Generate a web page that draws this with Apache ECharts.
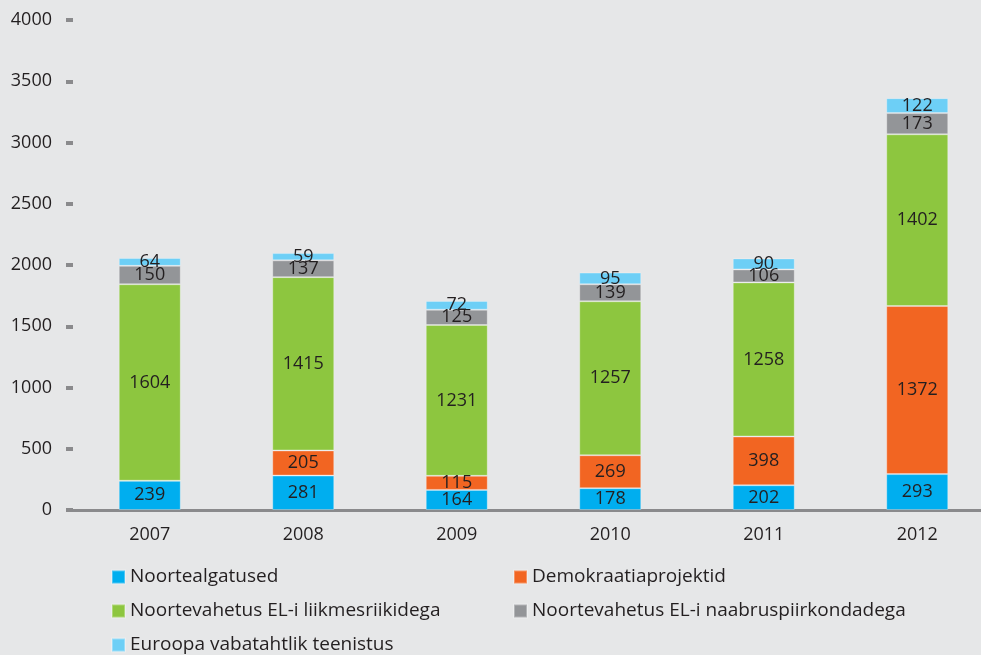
<!DOCTYPE html>
<html lang="et">
<head>
    <meta charset="utf-8">
    <title>Projektid aastate kaupa</title>
    <script src="https://cdn.jsdelivr.net/npm/echarts@6/dist/echarts.min.js"></script>
    <style>
        html, body { margin: 0; padding: 0; background: #e6e7e8; overflow: hidden; }
        /* joonis on aknast veidi laiem, viimane tulp ulatub servani */
        #chart { width: 994px; height: 655px; }
    </style>
</head>
<body>
<div id="chart"></div>
<script type="text/javascript">
    // andmed
    var years = ['2007', '2008', '2009', '2010', '2011', '2012'];
    var yTicks = [0, 500, 1000, 1500, 2000, 2500, 3000, 3500, 4000];
    var noortealgatused = [239, 281, 164, 178, 202, 293];
    var demokraatia = [0, 205, 115, 269, 398, 1372];
    var liikmesriigid = [1604, 1415, 1231, 1257, 1258, 1402];
    var naabruspiirkonnad = [150, 137, 125, 139, 106, 173];
    var vabatahtlik = [64, 59, 72, 95, 90, 122];

    var names = ['Noortealgatused', 'Demokraatiaprojektid', 'Noortevahetus EL-i liikmesriikidega',
        'Noortevahetus EL-i naabruspiirkondadega', 'Euroopa vabatahtlik teenistus'];
    var colors = ['#00aeef', '#f26522', '#8dc63f', '#939598', '#6dcff6'];
    var values = [noortealgatused, demokraatia, liikmesriigid, naabruspiirkonnad, vabatahtlik];

    var font = '"Open Sans", "Noto Sans", sans-serif';
    var textColor = '#231f20';

    var series = names.map(function (n, i) {
        return {
            name: n,
            type: 'bar',
            stack: 'kokku',
            barWidth: 62,
            data: values[i],
            itemStyle: { color: colors[i], borderColor: 'rgba(255,255,255,0.3)', borderWidth: 1 },
            label: {
                show: true,
                position: 'inside',
                color: textColor,
                fontFamily: font,
                fontSize: 18,
                formatter: function (p) { return p.value ? String(p.value) : ''; }
            }
        };
    });

    // legendi paigutus: kaks veergu, kolm rida
    var legendPos = [[111, 566], [513, 566], [111, 600], [513, 600], [111, 634]];
    var legends = names.map(function (n, i) {
        return {
            data: [n],
            left: legendPos[i][0],
            top: legendPos[i][1],
            padding: 0,
            icon: 'rect',
            itemWidth: 13,
            itemHeight: 13,
            itemGap: 6,
            selectedMode: false,
            textStyle: { color: textColor, fontFamily: font, fontSize: 19, lineHeight: 22 }
        };
    });

    var chart = echarts.init(document.getElementById('chart'));
    chart.setOption({
        backgroundColor: '#e6e7e8',
        animation: false,
        color: colors,
        legend: legends,
        grid: { left: 73, top: 20, right: 0, bottom: 145, containLabel: false },
        xAxis: {
            type: 'category',
            data: years,
            axisLine: { show: true, lineStyle: { color: '#8a8a8c', width: 3 } },
            axisTick: { show: false },
            axisLabel: { color: textColor, fontFamily: font, fontSize: 18, margin: 16 }
        },
        yAxis: {
            type: 'value',
            min: yTicks[0],
            max: yTicks[yTicks.length - 1],
            interval: 500,
            splitLine: { show: false },
            axisLine: { show: false },
            axisTick: { show: true, length: 7, lineStyle: { color: '#8a8a8c', width: 4 } },
            axisLabel: {
                color: textColor, fontFamily: font, fontSize: 18, margin: 21,
                formatter: function (v) { return String(v); }
            }
        },
        series: series
    });
</script>
</body>
</html>
